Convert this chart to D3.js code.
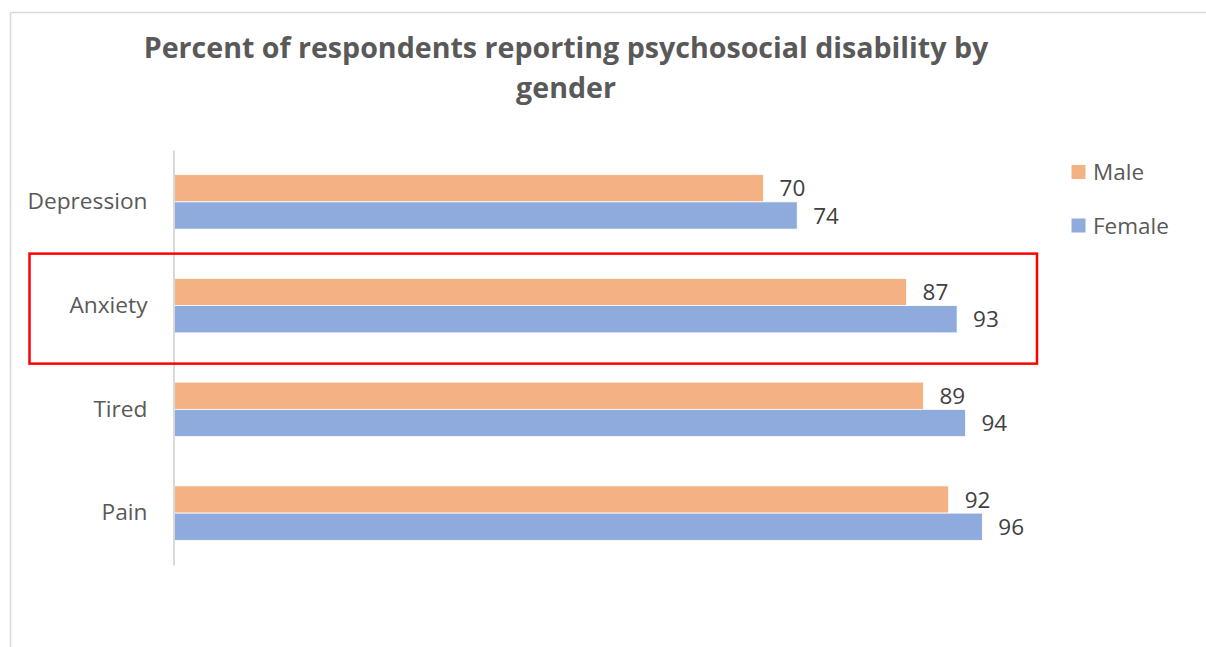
<!DOCTYPE html>
<html>
<head>
<meta charset="utf-8">
<script src="https://cdn.jsdelivr.net/npm/d3@7"></script>
<style>
  html, body { margin: 0; padding: 0; background: #fff; }
  svg { display: block; }
</style>
</head>
<body>
<div id="chart"></div>
<script>
const categories = ["Depression", "Anxiety", "Tired", "Pain"];
const seriesNames = ["Male", "Female"];
const maleValues = [70, 87, 89, 92];
const femaleValues = [74, 93, 94, 96];
const titleLines = ["Percent of respondents reporting psychosocial disability by", "gender"];
const highlighted = "Anxiety";

const W = 1206, H = 647;
const colors = { Male: "#F4B183", Female: "#8FAADC" };

const svg = d3.select("#chart").append("svg").attr("width", W).attr("height", H);
svg.append("rect").attr("width", W).attr("height", H).attr("fill", "#fff");

// outer chart border (top and left visible)
svg.append("line").attr("x1", 10.5).attr("x2", W).attr("y1", 12.5).attr("y2", 12.5)
  .attr("stroke", "#d9d9d9").attr("stroke-width", 1.5);
svg.append("line").attr("x1", 10.5).attr("x2", 10.5).attr("y1", 12.5).attr("y2", H)
  .attr("stroke", "#d9d9d9").attr("stroke-width", 1.5);

// title
const title = svg.append("text").attr("text-anchor", "middle")
  .attr("font-family", "'Open Sans', sans-serif").attr("font-weight", "bold")
  .attr("font-size", 28.6).attr("fill", "#595959");
titleLines.forEach((t, i) => {
  title.append("tspan").attr("x", 566).attr("y", 58 + i * 40).text(t);
});

const x = d3.scaleLinear().domain([0, 100]).range([174.5, 1016]);
const y = d3.scaleBand().domain(categories).range([150, 565]).padding(0);
const groupH = 54.5;
const sub = d3.scaleBand().domain(seriesNames).range([0, groupH]).padding(0);

const data = categories.map((c, i) => ({ cat: c, Male: maleValues[i], Female: femaleValues[i] }));

// bars
const g = svg.append("g");
data.forEach(d => {
  const top = y(d.cat) + (y.bandwidth() - groupH) / 2;
  seriesNames.forEach(s => {
    g.append("rect")
      .attr("x", x(0)).attr("y", top + sub(s))
      .attr("width", x(d[s]) - x(0)).attr("height", sub.bandwidth())
      .attr("fill", colors[s]).attr("stroke", "#fff").attr("stroke-width", 0.8);
    g.append("text")
      .attr("x", x(d[s]) + 16).attr("y", top + sub(s) + sub.bandwidth() / 2)
      .attr("dy", "0.36em")
      .attr("font-family", "'Open Sans', sans-serif").attr("font-size", 22.5)
      .attr("fill", "#404040").text(d[s]);
  });
});

// y axis
const yAxis = d3.axisLeft(y).tickSize(0).tickPadding(26);
const ax = svg.append("g").attr("transform", `translate(${x(0) - 1},0)`).call(yAxis);
ax.select(".domain").attr("stroke", "#d9d9d9").attr("stroke-width", 2);
ax.selectAll("text").attr("font-family", "'Open Sans', sans-serif").attr("font-size", 22.7)
  .attr("fill", "#595959");

// highlight box
const hb = y(highlighted);
svg.append("rect").attr("x", 29.5).attr("y", hb + y.bandwidth() / 2 - 52)
  .attr("width", 1007.5).attr("height", 110)
  .attr("fill", "none").attr("stroke", "#ff0000").attr("stroke-width", 2.5);

// legend
const legend = svg.append("g");
seriesNames.forEach((s, i) => {
  const ly = 165 + i * 53.5;
  legend.append("rect").attr("x", 1071.5).attr("y", ly).attr("width", 14).attr("height", 14)
    .attr("fill", colors[s]);
  legend.append("text").attr("x", 1093).attr("y", ly + 7).attr("dy", "0.36em")
    .attr("font-family", "'Open Sans', sans-serif").attr("font-size", 22.5)
    .attr("fill", "#595959").text(s);
});
</script>
</body>
</html>
